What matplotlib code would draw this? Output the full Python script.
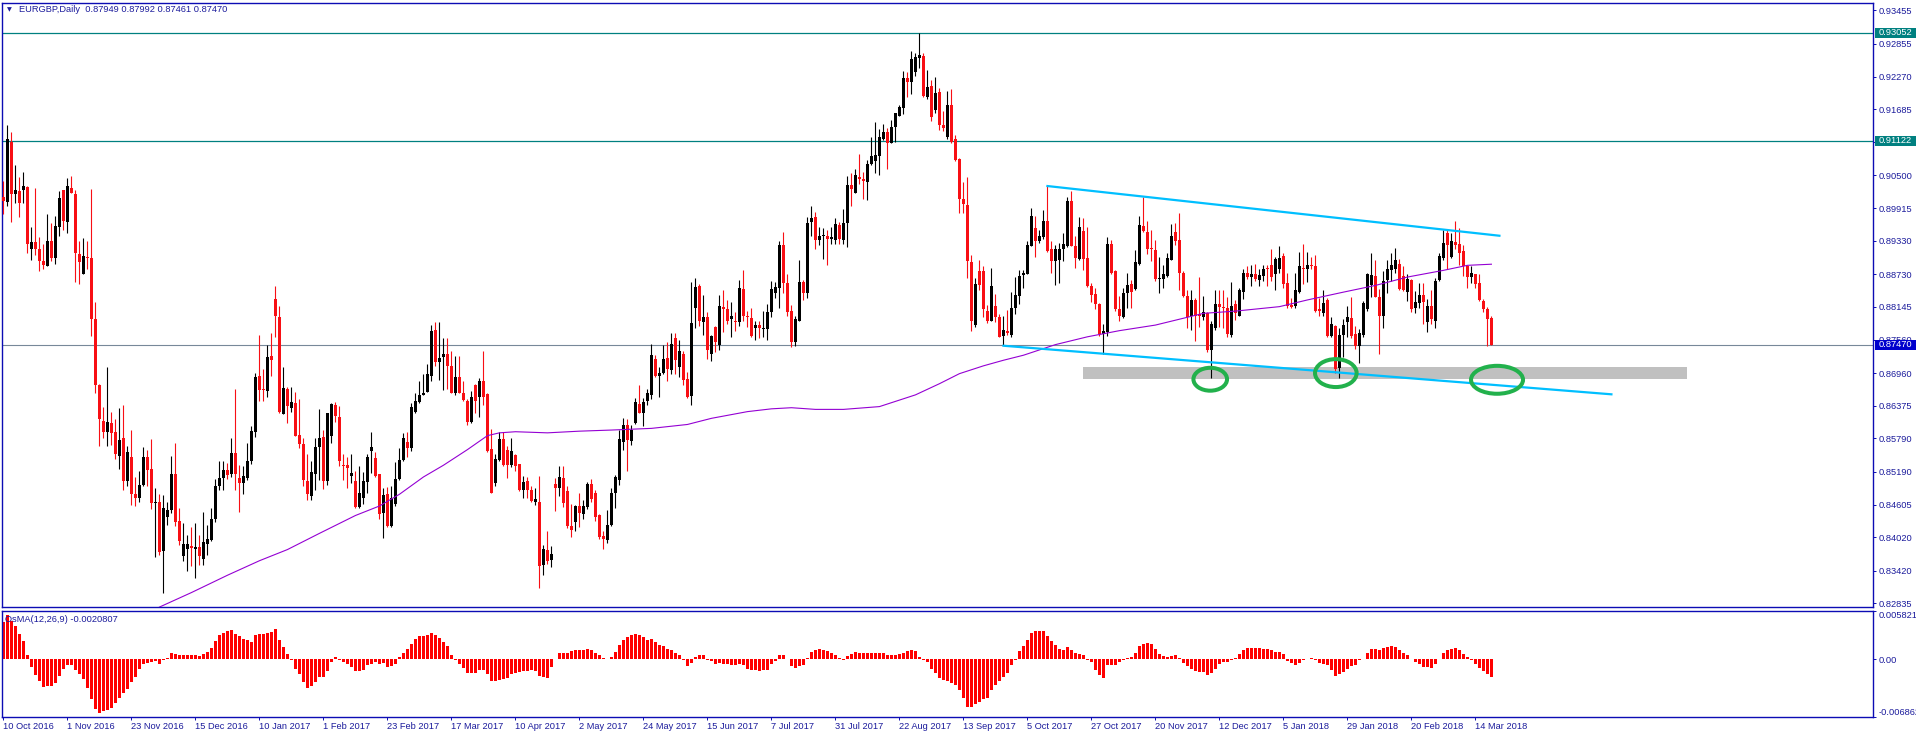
import numpy as np
import matplotlib.pyplot as plt
from matplotlib.patches import Ellipse, Rectangle
from matplotlib.transforms import blended_transform_factory

plt.rcParams['font.family'] = ['Liberation Sans', 'DejaVu Sans']
plt.rcParams['axes.unicode_minus'] = False

# EURGBP daily candles, 10 Oct 2016 .. Mar 2018, prices in pips (x 1e-4)
opens = [
    9012, 9003, 9110, 9016, 9022, 9024, 9029, 8918, 8931, 8918,
    8896, 8888, 8933, 8902, 8957, 9024, 8966, 9028, 9017, 8909,
    8874, 8904, 8903, 8792, 8674, 8611, 8591, 8607, 8590, 8548,
    8580, 8503, 8545, 8480, 8473, 8496, 8545, 8524, 8463, 8466,
    8378, 8439, 8450, 8515, 8431, 8369, 8381, 8386, 8381, 8385,
    8363, 8390, 8397, 8434, 8493, 8508, 8522, 8515, 8553, 8508,
    8500, 8508, 8539, 8590, 8691, 8667, 8664, 8726, 8829, 8796,
    8623, 8667, 8634, 8643, 8585, 8569, 8503, 8475, 8515, 8564,
    8582, 8502, 8583, 8639, 8617, 8531, 8531, 8512, 8503, 8457,
    8472, 8501, 8557, 8544, 8515, 8446, 8479, 8423, 8461, 8507,
    8540, 8573, 8561, 8627, 8645, 8657, 8662, 8691, 8773, 8716,
    8724, 8730, 8709, 8660, 8689, 8661, 8646, 8608, 8674, 8653,
    8682, 8658, 8560, 8500, 8540, 8578, 8559, 8531, 8550, 8533,
    8486, 8503, 8487, 8465, 8466, 8352, 8379, 8362, 8498, 8490,
    8508, 8485, 8423, 8429, 8458, 8443, 8457, 8498, 8482, 8441,
    8404, 8397, 8424, 8482, 8505, 8573, 8603, 8575, 8606, 8641,
    8624, 8646, 8657, 8721, 8691, 8696, 8723, 8701, 8758, 8707,
    8731, 8686, 8655, 8813, 8852, 8787, 8796, 8730, 8779, 8746,
    8815, 8810, 8793, 8790, 8787, 8847, 8799, 8795, 8777, 8782,
    8775, 8775, 8806, 8840, 8848, 8926, 8857, 8808, 8751, 8789,
    8859, 8840, 8966, 8975, 8934, 8941, 8941, 8937, 8935, 8962,
    8935, 8965, 9032, 9018, 9048, 9043, 9039, 9071, 9075, 9085,
    9115, 9127, 9108, 9136, 9157, 9171, 9225, 9218, 9235, 9261,
    9263, 9191, 9211, 9167, 9199, 9141, 9118, 9176, 9115, 9080,
    9007, 8997, 8895, 8783, 8878, 8878, 8808, 8789, 8817, 8796,
    8763, 8772, 8765, 8813, 8834, 8871, 8874, 8924, 8956, 8932,
    8940, 8968, 8918, 8897, 8898, 8918, 8924, 9004, 8924, 8901,
    8950, 8903, 8852, 8838, 8820, 8766, 8770, 8927, 8878, 8810,
    8796, 8839, 8855, 8847, 8891, 8960, 8949, 8920, 8917, 8864,
    8864, 8869, 8899, 8949, 8934, 8876, 8834, 8799, 8827, 8801,
    8796, 8803, 8737, 8777, 8820, 8815, 8813, 8765, 8819, 8799,
    8841, 8875, 8868, 8874, 8862, 8869, 8884, 8890, 8873, 8883,
    8905, 8857, 8818, 8817, 8841, 8885, 8883, 8890, 8887, 8811,
    8803, 8827, 8763, 8780, 8705, 8765, 8787, 8795, 8766, 8745,
    8765, 8810, 8854, 8869, 8833, 8799, 8862, 8880, 8883, 8891,
    8869, 8841, 8862, 8813, 8822, 8836, 8787, 8817, 8789, 8862,
    8903, 8946, 8904, 8931, 8927, 8914, 8887, 8868, 8873, 8857,
    8826, 8811, 8795,
]
highs = [
    9040, 9141, 9128, 9068, 9047, 9057, 9031, 8957, 9028, 8939,
    8927, 8981, 8965, 8977, 9023, 9024, 9045, 9049, 9024, 8933,
    8938, 8932, 9026, 8824, 8677, 8636, 8707, 8627, 8613, 8634,
    8639, 8565, 8594, 8510, 8521, 8564, 8559, 8578, 8490, 8479,
    8477, 8465, 8548, 8571, 8455, 8427, 8406, 8420, 8427, 8406,
    8448, 8424, 8455, 8507, 8538, 8538, 8535, 8580, 8667, 8531,
    8529, 8571, 8601, 8696, 8765, 8703, 8747, 8768, 8852, 8817,
    8707, 8671, 8671, 8662, 8650, 8580, 8552, 8538, 8580, 8632,
    8594, 8625, 8643, 8645, 8637, 8552, 8545, 8551, 8521, 8529,
    8519, 8552, 8590, 8554, 8515, 8490, 8492, 8493, 8537, 8562,
    8589, 8590, 8643, 8660, 8682, 8695, 8712, 8782, 8788, 8787,
    8759, 8758, 8735, 8726, 8726, 8681, 8650, 8664, 8677, 8688,
    8735, 8660, 8595, 8552, 8590, 8590, 8566, 8580, 8552, 8533,
    8512, 8510, 8493, 8491, 8512, 8388, 8413, 8386, 8508, 8529,
    8529, 8494, 8462, 8460, 8482, 8468, 8501, 8507, 8486, 8444,
    8413, 8451, 8490, 8514, 8594, 8615, 8613, 8603, 8652, 8674,
    8652, 8667, 8749, 8728, 8707, 8747, 8752, 8767, 8768, 8756,
    8735, 8698, 8859, 8866, 8855, 8836, 8806, 8765, 8780, 8836,
    8845, 8827, 8824, 8806, 8862, 8881, 8808, 8813, 8789, 8789,
    8808, 8819, 8861, 8859, 8932, 8948, 8873, 8818, 8798, 8899,
    8862, 8976, 8995, 8984, 8957, 8955, 8953, 8957, 8974, 8967,
    8990, 9049, 9054, 9061, 9089, 9056, 9078, 9119, 9145, 9133,
    9142, 9135, 9149, 9162, 9177, 9237, 9235, 9272, 9270, 9305,
    9270, 9239, 9221, 9226, 9207, 9165, 9202, 9204, 9122, 9082,
    9039, 9047, 8908, 8866, 8899, 8887, 8818, 8885, 8838, 8801,
    8799, 8809, 8841, 8868, 8880, 8881, 8933, 8991, 8977, 8953,
    8988, 9031, 8932, 8925, 8929, 8946, 9012, 9023, 8942, 8975,
    8974, 8957, 8857, 8848, 8822, 8784, 8940, 8935, 8880, 8834,
    8848, 8876, 8862, 8916, 8977, 9012, 8968, 8953, 8935, 8904,
    8890, 8911, 8963, 8965, 8982, 8878, 8845, 8845, 8831, 8868,
    8834, 8806, 8790, 8845, 8845, 8845, 8833, 8859, 8827, 8848,
    8883, 8887, 8890, 8891, 8883, 8890, 8889, 8918, 8904, 8924,
    8911, 8875, 8831, 8876, 8912, 8928, 8912, 8904, 8908, 8831,
    8845, 8831, 8796, 8782, 8777, 8793, 8816, 8833, 8780, 8775,
    8826, 8876, 8911, 8899, 8847, 8878, 8898, 8911, 8920, 8900,
    8887, 8873, 8864, 8843, 8857, 8857, 8829, 8845, 8866, 8911,
    8952, 8953, 8947, 8968, 8956, 8925, 8890, 8887, 8874, 8873,
    8829, 8815, 8799,
]
lows = [
    8981, 8995, 8966, 9001, 8975, 9001, 8911, 8898, 8907, 8878,
    8883, 8888, 8897, 8891, 8942, 8953, 8947, 9018, 8859, 8855,
    8874, 8883, 8762, 8661, 8565, 8580, 8565, 8567, 8543, 8524,
    8486, 8493, 8460, 8458, 8466, 8493, 8493, 8453, 8367, 8371,
    8302, 8424, 8446, 8422, 8388, 8360, 8341, 8350, 8329, 8353,
    8353, 8371, 8395, 8430, 8487, 8487, 8507, 8510, 8487, 8448,
    8479, 8505, 8533, 8582, 8646, 8646, 8653, 8691, 8761, 8625,
    8623, 8606, 8627, 8583, 8561, 8494, 8468, 8468, 8486, 8505,
    8489, 8496, 8571, 8608, 8529, 8505, 8491, 8500, 8455, 8455,
    8462, 8482, 8517, 8510, 8435, 8401, 8420, 8420, 8458, 8505,
    8538, 8545, 8557, 8624, 8643, 8657, 8662, 8682, 8709, 8684,
    8666, 8667, 8660, 8657, 8660, 8646, 8603, 8606, 8624, 8617,
    8639, 8555, 8482, 8493, 8538, 8529, 8508, 8528, 8521, 8485,
    8473, 8472, 8465, 8460, 8311, 8334, 8355, 8349, 8449, 8475,
    8457, 8418, 8402, 8413, 8420, 8434, 8453, 8465, 8432, 8399,
    8381, 8392, 8423, 8455, 8496, 8559, 8521, 8568, 8604, 8624,
    8602, 8639, 8650, 8689, 8653, 8695, 8682, 8694, 8694, 8689,
    8674, 8651, 8639, 8777, 8780, 8765, 8722, 8718, 8734, 8738,
    8770, 8784, 8761, 8772, 8781, 8789, 8779, 8761, 8756, 8759,
    8761, 8756, 8796, 8831, 8813, 8840, 8799, 8742, 8745, 8789,
    8827, 8831, 8942, 8919, 8925, 8901, 8890, 8928, 8928, 8928,
    8928, 8921, 8995, 9018, 9034, 9007, 9006, 9068, 9054, 9050,
    9113, 9062, 9108, 9110, 9157, 9160, 9190, 9195, 9228, 9242,
    9191, 9186, 9148, 9162, 9132, 9129, 9115, 9108, 9075, 8982,
    8982, 8866, 8772, 8779, 8845, 8796, 8785, 8789, 8788, 8761,
    8746, 8765, 8761, 8801, 8820, 8848, 8873, 8924, 8904, 8929,
    8937, 8912, 8875, 8854, 8857, 8897, 8921, 8924, 8885, 8898,
    8880, 8850, 8824, 8810, 8763, 8731, 8763, 8873, 8808, 8789,
    8794, 8813, 8812, 8845, 8890, 8949, 8909, 8897, 8861, 8840,
    8848, 8868, 8898, 8925, 8845, 8833, 8777, 8773, 8754, 8779,
    8791, 8733, 8688, 8773, 8779, 8776, 8761, 8761, 8791, 8798,
    8829, 8864, 8852, 8861, 8852, 8861, 8852, 8861, 8845, 8876,
    8848, 8813, 8813, 8813, 8840, 8855, 8859, 8883, 8806, 8798,
    8798, 8761, 8761, 8696, 8687, 8724, 8761, 8759, 8740, 8714,
    8761, 8808, 8833, 8833, 8730, 8777, 8840, 8861, 8876, 8845,
    8843, 8826, 8806, 8803, 8813, 8784, 8770, 8784, 8777, 8861,
    8899, 8883, 8903, 8919, 8890, 8869, 8848, 8857, 8848, 8826,
    8806, 8744, 8746,
]
closes = [
    9005, 9115, 9016, 9024, 9000, 9031, 8927, 8931, 8918, 8896,
    8890, 8933, 8903, 8960, 9009, 8969, 9031, 9018, 8911, 8895,
    8905, 8903, 8793, 8674, 8613, 8590, 8608, 8589, 8552, 8576,
    8503, 8555, 8479, 8472, 8496, 8545, 8523, 8464, 8466, 8376,
    8455, 8450, 8515, 8430, 8395, 8390, 8390, 8383, 8385, 8369,
    8394, 8399, 8435, 8493, 8509, 8522, 8514, 8553, 8515, 8500,
    8512, 8539, 8592, 8689, 8665, 8665, 8724, 8719, 8799, 8627,
    8669, 8637, 8645, 8583, 8569, 8505, 8479, 8519, 8564, 8580,
    8503, 8624, 8641, 8620, 8538, 8529, 8526, 8517, 8457, 8482,
    8503, 8545, 8564, 8512, 8444, 8478, 8423, 8472, 8507, 8540,
    8579, 8562, 8636, 8646, 8657, 8660, 8695, 8772, 8716, 8723,
    8731, 8709, 8660, 8689, 8661, 8648, 8609, 8653, 8646, 8682,
    8653, 8557, 8482, 8543, 8578, 8531, 8531, 8557, 8529, 8486,
    8501, 8486, 8467, 8470, 8350, 8381, 8360, 8372, 8491, 8510,
    8464, 8422, 8415, 8458, 8446, 8458, 8498, 8471, 8439, 8402,
    8399, 8424, 8482, 8510, 8578, 8603, 8576, 8594, 8644, 8625,
    8644, 8661, 8728, 8691, 8697, 8721, 8703, 8749, 8719, 8735,
    8684, 8653, 8786, 8850, 8789, 8796, 8737, 8763, 8751, 8817,
    8811, 8789, 8798, 8788, 8848, 8798, 8796, 8763, 8782, 8777,
    8776, 8806, 8846, 8850, 8925, 8857, 8806, 8751, 8793, 8859,
    8839, 8965, 8974, 8934, 8941, 8944, 8936, 8940, 8963, 8937,
    8965, 9032, 9025, 9050, 9043, 9040, 9071, 9085, 9087, 9119,
    9127, 9108, 9136, 9161, 9172, 9225, 9218, 9258, 9262, 9266,
    9193, 9209, 9155, 9197, 9141, 9135, 9176, 9110, 9078, 9007,
    8998, 8896, 8789, 8855, 8853, 8811, 8789, 8852, 8796, 8761,
    8773, 8767, 8813, 8836, 8869, 8876, 8925, 8977, 8932, 8942,
    8968, 8914, 8897, 8919, 8918, 8927, 9005, 8924, 8903, 8957,
    8901, 8852, 8836, 8820, 8766, 8772, 8927, 8876, 8810, 8798,
    8839, 8853, 8841, 8895, 8961, 8951, 8919, 8918, 8864, 8866,
    8873, 8903, 8941, 8932, 8876, 8834, 8796, 8827, 8799, 8798,
    8806, 8737, 8784, 8820, 8815, 8813, 8766, 8817, 8803, 8845,
    8875, 8868, 8873, 8864, 8871, 8883, 8882, 8868, 8901, 8903,
    8855, 8817, 8815, 8845, 8887, 8882, 8890, 8888, 8808, 8808,
    8822, 8763, 8784, 8703, 8765, 8782, 8796, 8763, 8745, 8767,
    8822, 8873, 8871, 8833, 8799, 8861, 8883, 8890, 8898, 8847,
    8845, 8864, 8811, 8824, 8836, 8824, 8817, 8793, 8861, 8906,
    8929, 8925, 8932, 8925, 8911, 8887, 8868, 8875, 8855, 8827,
    8810, 8793, 8747,
]
# OsMA(12,26,9) histogram, x 1e-5
osma = [
    444, 523, 463, 392, 305, 218, 48, -91, -190, -261,
    -329, -321, -321, -281, -202, -111, -71, -71, -131, -170,
    -230, -337, -467, -586, -638, -614, -606, -574, -519, -460,
    -400, -349, -269, -210, -111, -52, -40, -32, -24, -52,
    -12, 20, 79, 67, 55, 48, 48, 48, 48, 36,
    59, 87, 139, 214, 285, 317, 333, 345, 305, 277,
    246, 234, 206, 293, 305, 305, 317, 325, 357, 226,
    147, 67, -12, -119, -178, -269, -337, -321, -269, -210,
    -210, -143, -32, 28, -4, -32, -59, -91, -143, -143,
    -123, -71, -52, -32, -59, -44, -91, -79, -52, 28,
    75, 127, 186, 246, 277, 277, 285, 317, 293, 258,
    206, 155, 55, -4, -52, -103, -163, -163, -163, -131,
    -131, -170, -258, -258, -242, -230, -222, -170, -159, -151,
    -139, -143, -131, -143, -202, -210, -218, -91, 4, 79,
    79, 79, 99, 107, 107, 107, 127, 115, 75, 55,
    20, 8, 28, 87, 166, 234, 265, 285, 297, 289,
    265, 234, 246, 206, 174, 159, 127, 107, 79, 48,
    -12, -83, -44, 28, 48, 48, -4, -20, -52, -44,
    -52, -59, -63, -71, -52, -63, -111, -123, -131, -139,
    -123, -123, -52, -24, 48, 48, 8, -83, -103, -79,
    -71, 20, 87, 115, 127, 115, 95, 75, 48, 20,
    -4, 36, 67, 83, 79, 75, 75, 75, 75, 75,
    75, 48, 48, 48, 67, 79, 95, 107, 99, 28,
    -12, -32, -119, -163, -222, -250, -261, -281, -309, -361,
    -460, -567, -567, -527, -507, -468, -460, -369, -309, -261,
    -210, -163, -71, -12, 99, 155, 234, 317, 333, 333,
    333, 277, 218, 166, 127, 107, 147, 107, 79, 67,
    55, -12, -32, -131, -190, -218, -63, -63, -63, -32,
    -12, 16, 28, 75, 155, 178, 194, 186, 127, 67,
    36, 28, 36, 48, 20, -44, -83, -111, -143, -151,
    -151, -190, -163, -111, -59, -32, -32, -4, 16, 67,
    107, 135, 139, 139, 135, 127, 119, 107, 87, 87,
    67, -24, -40, -63, -44, -12, 8, 20, -4, -40,
    -59, -63, -131, -202, -178, -151, -111, -79, -63, -12,
    8, 79, 127, 127, 107, 135, 147, 155, 147, 107,
    75, 48, 8, -32, -59, -91, -91, -99, -59, 8,
    75, 107, 127, 135, 107, 67, 28, -12, -52, -103,
    -143, -178, -208,
]

# moving average (purple), read at a few bars, pips
ma_bars = [39, 47, 56, 64, 71, 79, 88, 94, 99, 105,
           110, 116, 121, 124, 128, 136, 144, 152, 162, 171,
           177, 186, 192, 197, 203, 210, 219, 222, 228, 234,
           239, 245, 250, 255, 263, 271, 279, 288, 296, 300,
           308, 319, 326, 335, 343, 351, 360, 366, 372]
ma_vals = [8277, 8303, 8334, 8360, 8380, 8409, 8441, 8458, 8479, 8510,
           8531, 8559, 8584, 8589, 8591, 8589, 8592, 8594, 8597, 8604,
           8615, 8627, 8632, 8634, 8631, 8631, 8636, 8643, 8657, 8677,
           8695, 8709, 8719, 8728, 8747, 8761, 8772, 8782, 8796, 8803,
           8807, 8815, 8827, 8841, 8853, 8868, 8880, 8889, 8891]

date_labels = ['10 Oct 2016', '1 Nov 2016', '23 Nov 2016', '15 Dec 2016', '10 Jan 2017',
               '1 Feb 2017', '23 Feb 2017', '17 Mar 2017', '10 Apr 2017', '2 May 2017',
               '24 May 2017', '15 Jun 2017', '7 Jul 2017', '31 Jul 2017', '22 Aug 2017',
               '13 Sep 2017', '5 Oct 2017', '27 Oct 2017', '20 Nov 2017', '12 Dec 2017',
               '5 Jan 2018', '29 Jan 2018', '20 Feb 2018', '14 Mar 2018']
price_ticks = [0.93455, 0.92855, 0.92270, 0.91685, 0.91100, 0.90500, 0.89915, 0.89330,
               0.88730, 0.88145, 0.87560, 0.86960, 0.86375, 0.85790, 0.85190, 0.84605,
               0.84020, 0.83420, 0.82835]
osma_ticks = [0.005821, 0.0, -0.006862]
osma_tick_labels = ['0.005821', '0.00', '-0.006862']
level_lines = [0.93052, 0.91122]
bid = 0.87470

# drawn objects on the chart (bar index, price)
upper_trend = ([261, 374], [0.9031, 0.8942])
lower_trend = ([250, 402], [0.8745, 0.8658])
zone = (270, 420.8, 0.8685, 0.8707)
circles = [(301.7, 0.8685, 8.4, 0.0041), (333.1, 0.8696, 10.4, 0.0050), (373.4, 0.8684, 13.0, 0.0050)]

W, H = 1916, 738
axis_col = '#0c0cb4'
text_col = '#1c1c9c'
fs = 6.7

fig = plt.figure(figsize=(W / 100, H / 100), dpi=100)


def box(x0, y0, x1, y1):
    return [x0 / W, 1 - y1 / H, (x1 - x0) / W, (y1 - y0) / H]


ax = fig.add_axes(box(2, 3, 1873, 607))
ax2 = fig.add_axes(box(2, 610.5, 1873, 717), sharex=ax)

n = min(len(opens), len(highs), len(lows), len(closes))
o = np.array(opens[:n]) / 1e4
h = np.array(highs[:n]) / 1e4
l = np.array(lows[:n]) / 1e4
c = np.array(closes[:n]) / 1e4
x = np.arange(n)
up = c >= o
cols = np.where(up, 'black', '#f80f14')

ax.vlines(x, l, h, colors=cols, lw=0.8, zorder=3)
body = np.maximum(np.abs(c - o), 0.00018)
ax.bar(x, body, bottom=np.minimum(o, c), width=0.75, color=cols, lw=0, zorder=3)

ax.plot(ma_bars, np.array(ma_vals) / 1e4, color='#9400d3', lw=0.8, zorder=4)

for v in level_lines:
    ax.axhline(v, color='#008080', lw=0.9, zorder=2)
ax.axhline(bid, color='#778899', lw=0.8, zorder=2)

ax.add_patch(Rectangle((zone[0], zone[2]), zone[1] - zone[0], zone[3] - zone[2],
                       facecolor='#c0c0c0', edgecolor='none', zorder=1))
ax.plot(*upper_trend, color='#00bfff', lw=1.6, zorder=5)
ax.plot(*lower_trend, color='#00bfff', lw=1.6, zorder=5)
for cx, cy, w, hh in circles:
    ax.add_patch(Ellipse((cx, cy), w, hh, fill=False, edgecolor='#22b14c', lw=2.9, zorder=6))

ax.set_xlim(-0.375, 467.4)
ax.set_ylim(0.82771, 0.93588)

# indicator panel
osv = np.array(osma[:n]) / 1e5
ax2.bar(np.arange(len(osv)), osv, width=0.6, color='#ff0000', lw=0)
ax2.set_ylim(-0.006862, 0.005821)

for a in (ax, ax2):
    for s in a.spines.values():
        s.set_color(axis_col)
        s.set_linewidth(1.0)
    a.yaxis.tick_right()

ax.set_yticks(price_ticks)
ax.set_yticklabels([f'{v:.5f}' for v in price_ticks])
ax.tick_params(axis='y', direction='out', length=2.2, width=0.7, colors=axis_col,
               labelcolor=text_col, labelsize=fs, pad=2.2)
ax.tick_params(axis='x', bottom=False, labelbottom=False)

ax2.set_xticks(np.arange(len(date_labels)) * 16)
ax2.set_xticklabels(date_labels, ha='left')
ax2.tick_params(axis='x', direction='out', length=2.5, width=0.7, colors=axis_col,
                labelcolor=text_col, labelsize=fs, pad=1)
ax2.set_yticks(osma_ticks)
ax2.set_yticklabels(osma_tick_labels)
ax2.tick_params(axis='y', direction='out', length=2.2, width=0.7, colors=axis_col,
                labelcolor=text_col, labelsize=fs, pad=1.5)
labs = ax2.get_yticklabels()
labs[0].set_va('top')
labs[-1].set_va('bottom')

# price boxes on the right scale
tr = blended_transform_factory(fig.transFigure, ax.transData)
half = 5 / 5584
for v, fc in [(0.93052, '#008080'), (0.91122, '#008080'), (bid, '#0000cd')]:
    ax.add_patch(Rectangle((1875 / W, v - half), (W - 1875) / W, 2 * half, transform=tr,
                           facecolor=fc, edgecolor='none', clip_on=False, zorder=10))
    ax.text(1879 / W, v, f'{v:.5f}', transform=tr, ha='left', va='center', color='white',
            fontsize=fs, zorder=11, clip_on=False)

# headers
fig.text(7 / W, 1 - 10 / H, '\u25bc', fontsize=4.5, color=text_col, va='center',
         family='DejaVu Sans')
fig.text(19 / W, 1 - 10 / H, 'EURGBP,Daily  0.87949 0.87992 0.87461 0.87470',
         fontsize=fs, color=text_col, va='center')
fig.text(5 / W, 1 - 619 / H, 'OsMA(12,26,9) -0.0020807', fontsize=fs, color=text_col,
         va='center')

fig.savefig('out.png', dpi=100, facecolor='white')
